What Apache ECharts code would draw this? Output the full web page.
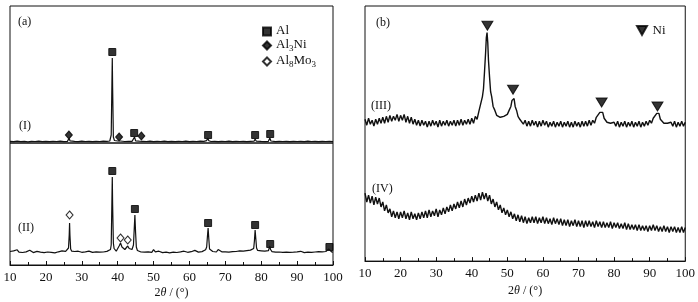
<!DOCTYPE html>
<html>
<head>
<meta charset="utf-8">
<script src="https://cdn.jsdelivr.net/npm/echarts@6/dist/echarts.min.js"></script>
<style>
  html, body { margin: 0; padding: 0; background: #fff; }
  #chart { width: 698px; height: 302px; }
</style>
</head>
<body>
<div id="chart"></div>
<script>
// 2θ ticks
const ticks = [10, 20, 30, 40, 50, 60, 70, 80, 90, 100];

// (I) pattern, panel (a) top
const traceI = [[10,1.6],[11,1.3],[12,1.8],[13,1.4],[14,1.6],[15,1.2],[16,1.7],[17,1.5],[18,1.9],[19,1.4],[20,1.6],[21,1.3],[22,1.7],[23,1.5],[24,1.8],[25,1.4],[26,1.6],[26.3,2.5],[26.5,5],[26.7,2.2],[27,1.5],[28,1.7],[29,1.4],[30,1.8],[31,1.5],[32,1.6],[33,1.3],[34,1.7],[35,1.5],[36,1.8],[37,1.6],[37.8,2],[38.2,8],[38.4,60],[38.5,85],[38.6,55],[38.8,6],[39.1,2.5],[39.5,1.8],[40,2],[40.4,3.5],[40.7,2],[41,1.6],[42,1.5],[43,1.7],[44,1.6],[44.4,2.5],[44.7,6],[45,2.2],[45.5,1.6],[46,1.8],[46.5,3.2],[46.9,1.7],[48,1.5],[49,1.8],[50,1.4],[51,1.7],[52,1.5],[53,1.8],[54,1.4],[55,1.6],[56,1.3],[57,1.7],[58,1.5],[59,1.8],[60,1.4],[61,1.6],[62,1.5],[63,1.8],[64,1.6],[64.8,2.4],[65.1,5],[65.4,2.3],[66,1.5],[67,1.7],[68,1.4],[69,1.6],[70,1.5],[71,1.8],[72,1.4],[73,1.6],[74,1.5],[75,1.7],[76,1.4],[77,1.6],[78,1.8],[78.3,4],[78.6,1.9],[79,1.5],[80,1.6],[81,1.4],[82,1.7],[82.4,5],[82.7,2],[83,1.6],[84,1.4],[85,1.7],[86,1.5],[87,1.6],[88,1.3],[89,1.7],[90,1.5],[91,1.6],[92,1.4],[93,1.8],[94,1.5],[95,1.6],[96,1.4],[97,1.7],[98,1.5],[99,1.6],[100,1.5]];

// (II) pattern, panel (a) bottom
const traceII = [[10,13.5],[10.5,12.2],[11,14.1],[11.5,13.0],[12,15.2],[12.5,12.8],[13,13.9],[13.5,12.5],[14,14.4],[14.5,13.1],[15,12.6],[15.5,14.8],[16,13.2],[16.5,12.4],[17,14.0],[17.5,13.6],[18,15.0],[18.5,12.9],[19,13.7],[19.5,12.3],[20,13.8],[20.5,13.0],[21,14.2],[21.5,12.7],[22,13.4],[22.5,12.1],[23,13.9],[23.5,13.2],[24,12.6],[24.5,14.1],[25,13.0],[25.5,13.6],[26,14.0],[26.3,17],[26.5,30],[26.6,42],[26.7,30],[26.9,16],[27.2,13.8],[27.5,12.9],[28,13.5],[28.5,12.4],[29,13.8],[29.5,13.1],[30,12.7],[30.5,14.0],[31,13.2],[31.5,12.5],[32,13.9],[32.5,13.0],[33,12.6],[33.5,13.7],[34,13.1],[34.5,14.3],[35,12.8],[35.5,13.5],[36,13.0],[36.5,14.2],[37,13.6],[37.5,14.5],[38,15.5],[38.2,20],[38.4,65],[38.5,88],[38.6,60],[38.8,22],[39,16.5],[39.3,14.5],[39.6,13.8],[40,15],[40.4,19],[40.8,22],[41.2,18],[41.6,16],[42,15.5],[42.4,17.5],[42.8,19],[43.2,16.5],[43.6,15],[44,15.5],[44.4,20],[44.6,35],[44.8,50],[45,32],[45.2,18],[45.5,14.5],[46,13.6],[46.5,13.0],[47,14.2],[47.5,12.8],[48,13.5],[48.5,13.1],[49,14.0],[49.5,12.6],[50,15.3],[50.5,13.2],[51,12.5],[51.5,13.8],[52,13.0],[52.5,12.4],[53,13.7],[53.5,12.9],[54,13.3],[54.5,12.2],[55,13.6],[55.5,12.8],[56,13.4],[56.5,12.5],[57,13.9],[57.5,13.1],[58,12.6],[58.5,13.8],[59,13.0],[59.5,12.7],[60,14.1],[60.5,13.3],[61,12.8],[61.5,14.6],[62,13.2],[62.5,12.9],[63,14.3],[63.5,13.4],[64,14.0],[64.5,15.2],[64.8,18],[65,28],[65.2,37],[65.4,26],[65.6,16],[66,14.2],[66.5,13.5],[67,14.6],[67.5,13.0],[68,15.4],[68.5,13.8],[69,13.2],[69.5,14.5],[70,13.1],[70.5,14.3],[71,12.9],[71.5,14.0],[72,13.3],[72.5,14.8],[73,13.5],[73.5,12.8],[74,14.1],[74.5,13.2],[75,13.9],[75.5,12.7],[76,14.4],[76.5,13.6],[77,14.9],[77.5,14.0],[77.9,16.5],[78.1,24],[78.3,35],[78.5,26],[78.7,17],[79,14.6],[79.5,13.4],[80,14.2],[80.5,13.0],[81,13.8],[81.5,12.9],[82,14.3],[82.2,16],[82.4,19],[82.6,15.5],[83,13.4],[83.5,14.0],[84,12.8],[84.5,13.6],[85,13.0],[85.5,14.2],[86,12.7],[86.5,13.5],[87,12.9],[87.5,13.8],[88,12.6],[88.5,13.3],[89,12.8],[89.5,14.0],[90,13.1],[90.5,12.5],[91,13.7],[91.5,13.0],[92,12.4],[92.5,13.6],[93,12.9],[93.5,13.3],[94,12.6],[94.5,14.1],[95,13.0],[95.5,12.5],[96,13.4],[96.5,12.7],[97,13.2],[97.5,12.3],[98,13.5],[98.5,14.5],[98.8,16],[99,17],[99.3,15],[99.6,13.2],[100,12.8]];

// (III) pattern, panel (b)
const traceIII = [[10,144],[10.5,138],[11,145],[11.5,139],[12,143],[12.5,137],[13,144],[13.5,139],[14,145],[14.5,140],[15,146],[15.5,140],[16,147],[16.5,141],[17,148],[17.5,142],[18,147],[18.5,143],[19,149],[19.5,142],[20,148],[20.5,143],[21,149],[21.5,141],[22,147],[22.5,140],[23,146],[23.5,139],[24,144],[24.5,138],[25,143],[25.5,137],[26,143],[26.5,138],[27,142],[27.5,136],[28,142],[28.5,137],[29,143],[29.5,138],[30,142],[30.5,136],[31,143],[31.5,137],[32,142],[32.5,138],[33,143],[33.5,137],[34,142],[34.5,138],[35,143],[35.5,137],[36,143],[36.5,138],[37,144],[37.5,138],[38,143],[38.5,139],[39,144],[39.5,139],[40,145],[40.5,140],[41,147],[41.5,144],[42,152],[42.5,154],[43,167],[43.3,175],[43.6,193],[43.9,212],[44.1,227],[44.3,232],[44.5,222],[44.7,204],[45,187],[45.3,172],[45.6,167],[46,157],[46.5,153],[47,148],[47.5,146],[48,146],[48.5,145],[49,147],[49.5,147],[50,149],[50.5,153],[51,157],[51.3,163],[51.6,165],[51.9,165],[52.2,157],[52.6,153],[53,147],[53.5,144],[54,143],[54.5,139],[55,143],[55.5,137],[56,142],[56.5,137],[57,143],[57.5,138],[58,142],[58.5,136],[59,142],[59.5,137],[60,143],[60.5,138],[61,142],[61.5,136],[62,141],[62.5,137],[63,142],[63.5,136],[64,141],[64.5,137],[65,142],[65.5,136],[66,141],[66.5,137],[67,142],[67.5,136],[68,141],[68.5,136],[69,142],[69.5,137],[70,141],[70.5,136],[71,142],[71.5,137],[72,142],[72.5,137],[73,143],[73.5,138],[74,143],[74.5,140],[75,146],[75.5,146],[76,151],[76.4,153],[76.8,151],[77.2,145],[77.6,144],[78,141],[78.5,140],[79,140],[79.5,138],[80,141],[80.5,137],[81,142],[81.5,136],[82,141],[82.5,137],[83,142],[83.5,136],[84,141],[84.5,137],[85,142],[85.5,136],[86,141],[86.5,137],[87,142],[87.5,136],[88,141],[88.5,137],[89,142],[89.5,138],[90,143],[90.5,140],[91,145],[91.5,145],[92,150],[92.3,151],[92.6,150],[93,144],[93.5,143],[94,140],[94.5,139],[95,140],[95.5,138],[96,141],[96.5,137],[97,142],[97.5,136],[98,141],[98.5,137],[99,142],[99.5,137],[100,141]];

// (IV) pattern, panel (b)
const traceIV = [[10,69],[10.5,60],[11,67],[11.5,59],[12,66],[12.5,57],[13,65],[13.5,58],[14,64],[14.5,55],[15,60],[15.5,51],[16,57],[16.5,49],[17,53],[17.5,45],[18,51],[18.5,44],[19,50],[19.5,43],[20,50],[20.5,44],[21,51],[21.5,43],[22,49],[22.5,42],[23,50],[23.5,43],[24,48],[24.5,42],[25,49],[25.5,43],[26,50],[26.5,44],[27,51],[27.5,44],[28,52],[28.5,45],[29,51],[29.5,46],[30,53],[30.5,45],[31,52],[31.5,47],[32,54],[32.5,48],[33,55],[33.5,50],[34,57],[34.5,51],[35,58],[35.5,53],[36,60],[36.5,54],[37,61],[37.5,55],[38,63],[38.5,57],[39,64],[39.5,59],[40,66],[40.5,60],[41,67],[41.5,61],[42,69],[42.5,62],[43,70],[43.5,63],[44,69],[44.5,61],[45,67],[45.5,58],[46,63],[46.5,55],[47,60],[47.5,52],[48,57],[48.5,49],[49,54],[49.5,47],[50,52],[50.5,45],[51,50],[51.5,43],[52,48],[52.5,41],[53,47],[53.5,40],[54,46],[54.5,39],[55,45],[55.5,38],[56,44],[56.5,39],[57,45],[57.5,39],[58,45],[58.5,38],[59,44],[59.5,39],[60,45],[60.5,38],[61,44],[61.5,38],[62,43],[62.5,37],[63,44],[63.5,38],[64,43],[64.5,37],[65,43],[65.5,36],[66,42],[66.5,36],[67,42],[67.5,35],[68,41],[68.5,36],[69,42],[69.5,35],[70,41],[70.5,35],[71,41],[71.5,34],[72,41],[72.5,35],[73,41],[73.5,35],[74,40],[74.5,34],[75,41],[75.5,35],[76,40],[76.5,34],[77,40],[77.5,34],[78,39],[78.5,34],[79,40],[79.5,33],[80,39],[80.5,34],[81,39],[81.5,33],[82,38],[82.5,33],[83,39],[83.5,32],[84,38],[84.5,32],[85,37],[85.5,32],[86,37],[86.5,31],[87,37],[87.5,31],[88,36],[88.5,31],[89,36],[89.5,30],[90,36],[90.5,31],[91,37],[91.5,31],[92,36],[92.5,30],[93,35],[93.5,30],[94,36],[94.5,30],[95,35],[95.5,29],[96,35],[96.5,30],[97,35],[97.5,29],[98,34],[98.5,29],[99,35],[99.5,29],[100,34]];

// phase markers [2θ, height]
const alI = [[38.5,91],[44.6,10],[65.2,8],[78.3,8],[82.5,9]];
const al3niI = [[26.4,8],[40.4,6],[46.6,7]];
const alII = [[38.5,94],[44.8,56],[65.2,42],[78.3,40],[82.5,21],[99,18]];
const al8mo3II = [[26.6,50],[40.8,27],[42.8,25]];
const niIII = [[44.4,239],[51.6,174],[76.5,161],[92.2,157]];

const serif = 'Liberation Serif';
const ink = '#111';
const fs = 12;

const chart = echarts.init(document.getElementById('chart'));

function xAxis(grid, labels) {
  return {
    type: 'value', gridIndex: grid, min: 10, max: 100, interval: 10,
    axisLine: { show: labels, lineStyle: { color: ink, width: 1 } },
    axisTick: { show: labels, inside: true, length: 4, lineStyle: { color: ink } },
    minorTick: { show: labels, splitNumber: 2, length: 3, lineStyle: { color: ink } },
    axisLabel: { show: labels, color: ink, fontFamily: serif, fontSize: 13, margin: 6 },
    splitLine: { show: false },
    name: labels ? '2{i|θ} / (°)' : '',
    nameLocation: 'middle', nameGap: 22,
    nameTextStyle: { color: ink, fontFamily: serif, fontSize: fs, rich: { i: { fontStyle: 'italic', fontFamily: serif, fontSize: fs, color: ink } } }
  };
}
function yAxis(grid, max) {
  return { type: 'value', gridIndex: grid, min: 0, max: max, show: false };
}
function trace(data, x, y, w) {
  return { type: 'line', data: data, xAxisIndex: x, yAxisIndex: y, showSymbol: false,
    lineStyle: { color: ink, width: w }, silent: true };
}
function marks(name, data, x, y, symbol, size, fill) {
  return { type: 'scatter', name: name, data: data, xAxisIndex: x, yAxisIndex: y,
    symbol: symbol, symbolSize: size,
    itemStyle: { color: fill, borderColor: '#000', borderWidth: 1 } };
}
const tri = 'path://M0,0L10,0L5,9Z';
const legendRich = {
  n: { fontSize: 13, fontFamily: serif, color: ink, lineHeight: 15, verticalAlign: 'top' },
  s: { fontSize: 9, fontFamily: serif, color: ink, lineHeight: 15, verticalAlign: 'bottom' }
};
const legendNames = {
  'Al': '{n|Al}',
  'Al3Ni': '{n|Al}{s|3}{n|Ni}',
  'Al8Mo3': '{n|Al}{s|8}{n|Mo}{s|3}'
};

chart.setOption({
  animation: false,
  grid: [
    { left: 10, top: 6, width: 323, height: 137, show: true, borderColor: ink, borderWidth: 1 },
    { left: 10, top: 143, width: 323, height: 122, show: true, borderColor: ink, borderWidth: 1 },
    { left: 365, top: 6, width: 321, height: 259, show: true, borderColor: ink, borderWidth: 1 }
  ],
  xAxis: [xAxis(0, false), xAxis(1, true), xAxis(2, true)],
  yAxis: [yAxis(0, 137), yAxis(1, 122), yAxis(2, 259)],
  legend: [
    {
      data: ['Al', 'Al3Ni', 'Al8Mo3'], orient: 'vertical', left: 257, top: 19,
      itemWidth: 8, itemHeight: 8, itemGap: 1, selectedMode: false,
      formatter: n => legendNames[n],
      textStyle: { fontFamily: serif, fontSize: 13, color: ink, rich: legendRich }
    },
    {
      data: ['Ni'], left: 631, top: 19, itemWidth: 11, itemHeight: 9, selectedMode: false,
      textStyle: { fontFamily: serif, fontSize: 13, color: ink }
    }
  ],
  graphic: [
    ['(a)', 18, 23], ['(I)', 19, 127], ['(II)', 18, 229],
    ['(b)', 376, 24], ['(III)', 371, 107], ['(IV)', 372, 190]
  ].map(([t, x, y]) => ({
    type: 'text', left: x, top: y - 7,
    style: { text: t, fontFamily: serif, fontSize: fs, fill: ink }
  })),
  series: [
    trace(traceI, 0, 0, 1.2),
    trace(traceII, 1, 1, 1.2),
    trace(traceIII, 2, 2, 1.4),
    trace(traceIV, 2, 2, 1.4),
    marks('Al', alI, 0, 0, 'rect', 7, '#000'),
    marks('Al3Ni', al3niI, 0, 0, 'diamond', [7, 8], '#000'),
    marks('Al', alII, 1, 1, 'rect', 7, '#000'),
    marks('Al8Mo3', al8mo3II, 1, 1, 'diamond', [7, 8], '#fff'),
    marks('Ni', niIII, 2, 2, tri, [11, 9], '#000')
  ]
});
</script>
</body>
</html>
